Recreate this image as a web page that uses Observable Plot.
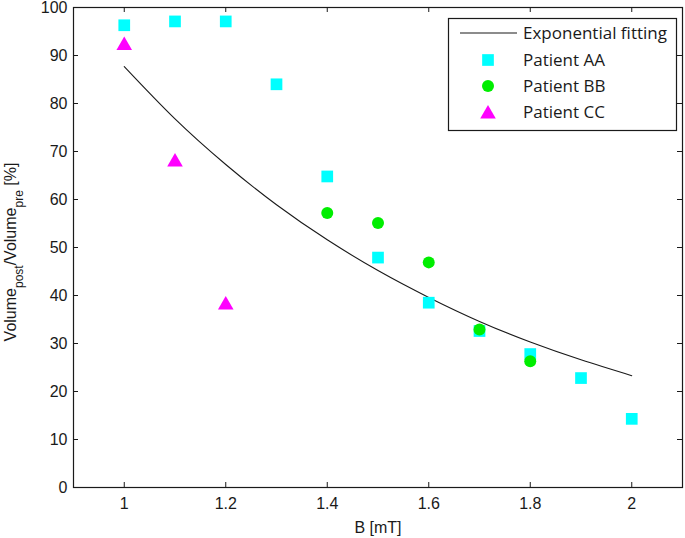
<!DOCTYPE html>
<html><head><meta charset="utf-8">
<script src="https://cdn.jsdelivr.net/npm/d3@7"></script>
<script src="https://cdn.jsdelivr.net/npm/@observablehq/plot@0.6"></script>
<style>body{margin:0;background:#fff} #chart svg{display:block}</style>
</head><body><div id="chart"></div>
<script>
// Patient AA (cyan squares)
const bAA = [1.0, 1.1, 1.2, 1.3, 1.4, 1.5, 1.6, 1.7, 1.8, 1.9, 2.0];
const volAA = [96.3, 97.1, 97.1, 84.0, 64.8, 47.9, 38.5, 32.6, 27.8, 22.8, 14.3];
// Patient BB (green circles)
const bBB = [1.4, 1.5, 1.6, 1.7, 1.8];
const volBB = [57.2, 55.1, 46.9, 32.9, 26.3];
// Patient CC (magenta triangles)
const bCC = [1.0, 1.1, 1.2];
const volCC = [92.1, 67.8, 38.0];
// Exponential fitting curve
const bFit = [1.0, 1.1, 1.2, 1.3, 1.4, 1.5, 1.6, 1.7, 1.8, 1.9, 2.0];
const volFit = [87.7, 76.8, 67.3, 58.9, 51.6, 45.2, 39.6, 34.6, 30.3, 26.6, 23.3];
// ticks
const xTicks = [1, 1.2, 1.4, 1.6, 1.8, 2];
const yTicks = [0, 10, 20, 30, 40, 50, 60, 70, 80, 90, 100];
const legendLabels = ["Exponential fitting", "Patient AA", "Patient BB", "Patient CC"];

const W = 685, H = 538, mL = 73, mR = 3, mT = 7, mB = 51;
const innerW = W - mL - mR, innerH = H - mT - mB, tk = 5;

const aa = bAA.map((b, i) => ({b, v: volAA[i]}));
const bb = bBB.map((b, i) => ({b, v: volBB[i]}));
const cc = bCC.map((b, i) => ({b, v: volCC[i]}));
const fit = bFit.map((b, i) => ({b, v: volFit[i]}));

const tickFont = "Liberation Sans";

const plot = Plot.plot({
  width: W, height: H,
  marginLeft: mL, marginRight: mR, marginTop: mT, marginBottom: mB,
  style: {fontFamily: tickFont, fontSize: "16px", color: "#1a1a1a", background: "#fff"},
  x: {domain: [0.9, 2.1]},
  y: {domain: [0, 100]},
  marks: [
    Plot.lineY(fit, {x: "b", y: "v", stroke: "#1a1a1a", strokeWidth: 1.1, curve: "natural"}),
    Plot.dot(aa, {x: "b", y: "v", symbol: "square", r: 6.6, fill: "#00ffff", stroke: null}),
    Plot.dot(bb, {x: "b", y: "v", symbol: "circle", r: 6, fill: "#00ee00", stroke: null}),
    Plot.dot(cc, {x: "b", y: "v", symbol: "triangle", r: 5.8, fill: "#ff00ff", stroke: null}),
    Plot.frame({stroke: "#1a1a1a", strokeWidth: 1.2}),
    // inward ticks
    Plot.tickX(xTicks, {x: d => d, insetTop: innerH - tk, stroke: "#1a1a1a"}),
    Plot.tickX(xTicks, {x: d => d, insetBottom: innerH - tk, stroke: "#1a1a1a"}),
    Plot.tickY(yTicks, {y: d => d, insetRight: innerW - tk, stroke: "#1a1a1a"}),
    Plot.tickY(yTicks, {y: d => d, insetLeft: innerW - tk, stroke: "#1a1a1a"}),
    Plot.axisX({ticks: xTicks, tickSize: 0, tickPadding: 10, fontSize: 16, fontFamily: tickFont, label: "B [mT]", labelAnchor: "center", labelOffset: 45, labelArrow: "none", tickFormat: d => String(d)}),
    Plot.axisY({ticks: yTicks, tickSize: 0, tickPadding: 6, fontSize: 16, fontFamily: tickFont, label: null})
  ]
});
document.getElementById("chart").append(plot);

const svg = d3.select(plot);
svg.selectAll("g[aria-label$='tick label'] text, g[aria-label$='label'] text").attr("font-family", tickFont);

// y label with subscripts
const yl = svg.append("text")
  .attr("transform", "translate(16,252) rotate(-90)")
  .attr("text-anchor", "middle")
  .attr("font-family", tickFont)
  .attr("font-size", 16)
  .attr("fill", "#1a1a1a");
yl.append("tspan").text("Volume");
yl.append("tspan").attr("font-size", 12).attr("dy", 7).text("post");
yl.append("tspan").attr("dy", -7).text("/Volume");
yl.append("tspan").attr("font-size", 12).attr("dy", 7).text("pre");
yl.append("tspan").attr("dy", -7).text(" [%]");

// legend
const lg = svg.append("g").attr("font-family", "'Open Sans', Lato, sans-serif").attr("font-size", 17).attr("fill", "#1a1a1a").attr("text-anchor", "start");
lg.append("rect").attr("x", 448.5).attr("y", 18.5).attr("width", 228).attr("height", 112)
  .attr("fill", "#fff").attr("stroke", "#1a1a1a").attr("stroke-width", 1.2);
const rows = [33, 60, 86, 112];
lg.append("line").attr("x1", 460).attr("x2", 517).attr("y1", rows[0]).attr("y2", rows[0]).attr("stroke", "#1a1a1a").attr("stroke-width", 1.1);
lg.append("path").attr("d", d3.symbol(d3.symbolSquare, Math.PI * 6.6 * 6.6)()).attr("transform", `translate(488,${rows[1]})`).attr("fill", "#00ffff");
lg.append("path").attr("d", d3.symbol(d3.symbolCircle, Math.PI * 6 * 6)()).attr("transform", `translate(488,${rows[2]})`).attr("fill", "#00ee00");
lg.append("path").attr("d", d3.symbol(d3.symbolTriangle, Math.PI * 5.8 * 5.8)()).attr("transform", `translate(488,${rows[3] + 2})`).attr("fill", "#ff00ff");
legendLabels.forEach((t, i) => {
  lg.append("text").attr("x", 523).attr("y", rows[i]).attr("dy", "0.35em").attr("text-anchor", "start").text(t);
});
</script>
</body></html>
